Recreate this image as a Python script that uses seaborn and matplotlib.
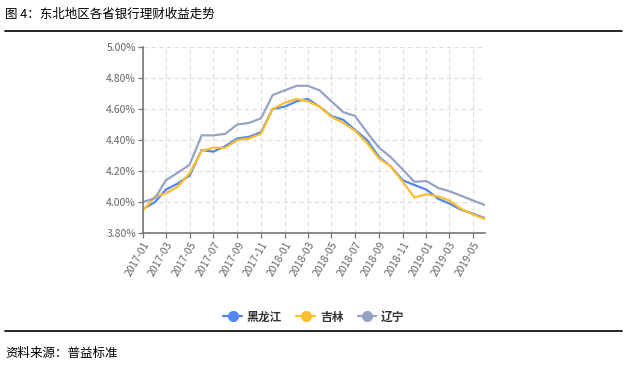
import numpy as np
import pandas as pd
import matplotlib
matplotlib.use("Agg")
import matplotlib.pyplot as plt
import seaborn as sns
from matplotlib.lines import Line2D

months = pd.date_range("2017-01-01", "2019-06-01", freq="MS")
series_names = ["黑龙江", "吉林", "辽宁"]
heilongjiang = [3.955, 4.00, 4.08, 4.12, 4.17, 4.335, 4.325, 4.36, 4.41, 4.42,
                4.45, 4.60, 4.615, 4.65, 4.665, 4.615, 4.555, 4.53, 4.465, 4.40,
                4.29, 4.23, 4.14, 4.11, 4.08, 4.02, 3.99, 3.95, 3.925, 3.895]
jilin = [3.945, 4.035, 4.055, 4.10, 4.185, 4.33, 4.35, 4.35, 4.40, 4.41,
         4.44, 4.60, 4.64, 4.665, 4.65, 4.615, 4.55, 4.51, 4.46, 4.38,
         4.28, 4.23, 4.13, 4.03, 4.05, 4.035, 4.01, 3.955, 3.92, 3.89]
liaoning = [4.00, 4.025, 4.14, 4.19, 4.24, 4.43, 4.43, 4.44, 4.50, 4.51,
            4.54, 4.69, 4.72, 4.75, 4.75, 4.72, 4.65, 4.58, 4.555, 4.45,
            4.35, 4.29, 4.21, 4.13, 4.135, 4.09, 4.07, 4.04, 4.01, 3.98]
y_ticks = [3.80, 4.00, 4.20, 4.40, 4.60, 4.80, 5.00]
colors = ["#4F86F2", "#FDBE2C", "#95A3C6"]

df = pd.DataFrame({
    "month": np.tile(months, 3),
    "value": heilongjiang + jilin + liaoning,
    "series": np.repeat(series_names, len(months)),
})

sns.set_theme(style="white")
plt.rcParams["font.family"] = ["Noto Sans CJK SC", "DejaVu Sans"]

fig = plt.figure(figsize=(6.31, 3.67), dpi=100)
ax = fig.add_axes([143/631, 1-233/367, (485-143)/631, (233-47)/367])

sns.lineplot(data=df, x="month", y="value", hue="series", hue_order=series_names,
             palette=colors, linewidth=1.6, ax=ax, legend=False)

ax.set_xlim(months[0], months[-1])
ax.set_ylim(3.80, 5.00)
ax.set_yticks(y_ticks)
ax.set_yticklabels([f"{v:.2f}%" for v in y_ticks])
tick_months = months[::2]
ax.set_xticks(tick_months)
ax.set_xticklabels([m.strftime("%Y-%m") for m in tick_months], rotation=60,
                   ha="right", rotation_mode="anchor")
ax.set_xlabel("")
ax.set_ylabel("")

ax.grid(True, color="#DDDDDD", linestyle=(0, (4, 3)), linewidth=0.8)
ax.set_axisbelow(True)
for s in ["top", "right"]:
    ax.spines[s].set_visible(False)
for s in ["left", "bottom"]:
    ax.spines[s].set_color("#777777")
    ax.spines[s].set_linewidth(1.2)
ax.tick_params(axis="both", which="both", length=3.5, width=0.9, color="#777777",
               labelsize=7.5, labelcolor="#666666", pad=1.5, left=True, bottom=True)

# legend
handles = [Line2D([0], [0], color=c, marker="o", markersize=7, linewidth=1.6,
                  markeredgecolor=c) for c in colors]
fig.legend(handles, series_names, loc="center", bbox_to_anchor=(314/631, 1-317/367),
           ncol=3, frameon=False, handlelength=1.6, handletextpad=0.4,
           columnspacing=1.2, labelcolor="#333333", prop={"weight": "bold", "size": 8.5})

# title, rules, source
fig.text(5/631, 1-14/367, "图 4：东北地区各省银行理财收益走势", fontsize=9,
         va="center", ha="left", color="#000000")
fig.add_artist(Line2D([5/631, 622/631], [1-31/367, 1-31/367], color="black", linewidth=1.2))
fig.add_artist(Line2D([5/631, 622/631], [1-331/367, 1-331/367], color="black", linewidth=1.2))
fig.text(5/631, 1-353/367, "资料来源：普益标准", fontsize=9, va="center", ha="left",
         color="#000000")

fig.savefig("out.png", dpi=100)
